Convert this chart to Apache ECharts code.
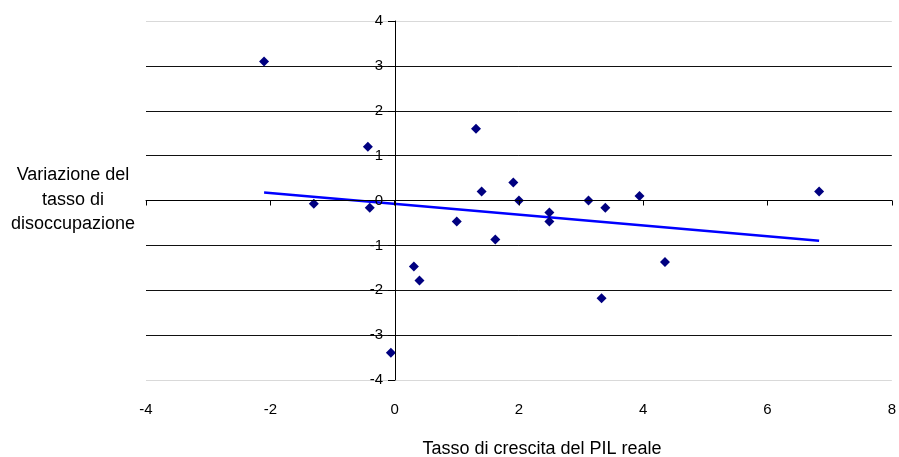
<!DOCTYPE html>
<html>
<head>
<meta charset="utf-8">
<script src="https://cdn.jsdelivr.net/npm/echarts@6/dist/echarts.min.js"></script>
<style>html,body{margin:0;padding:0;background:#fff}#c{width:899px;height:457px}</style>
</head>
<body>
<div id="c"></div>
<script>
// Tasso di crescita del PIL reale (x) vs Variazione del tasso di disoccupazione (y)
const gdpGrowth = [-2.1, -1.3, -0.43, -0.4, -0.06, 0.31, 0.4, 1.31, 1.4, 1.91, 2.0, 1.0, 1.62, 2.49, 2.49, 3.12, 3.39, 3.94, 3.33, 4.35, 6.83];
const unempChange = [3.1, -0.07, 1.2, -0.16, -3.39, -1.47, -1.78, 1.6, 0.2, 0.4, 0.0, -0.47, -0.87, -0.27, -0.47, 0.0, -0.16, 0.1, -2.18, -1.37, 0.2];
const xTicks = [-4, -2, 0, 2, 4, 6, 8];
const yTicks = [-4, -3, -2, -1, 0, 1, 2, 3, 4];
const xTitle = 'Tasso di crescita del PIL reale';
const yTitle = 'Variazione del\ntasso di\ndisoccupazione';

// Linear trend (least squares) from the data
const n = gdpGrowth.length;
const mx = gdpGrowth.reduce((a, b) => a + b, 0) / n;
const my = unempChange.reduce((a, b) => a + b, 0) / n;
let sxy = 0, sxx = 0;
for (let i = 0; i < n; i++) { sxy += (gdpGrowth[i] - mx) * (unempChange[i] - my); sxx += (gdpGrowth[i] - mx) ** 2; }
const slope = sxy / sxx, intercept = my - slope * mx;
const xMin = Math.min(...gdpGrowth), xMax = Math.max(...gdpGrowth);
const trend = [[xMin, intercept + slope * xMin], [xMax, intercept + slope * xMax]];

const FONT = "'Liberation Sans', Arial, sans-serif";
const GRID_LEFT = 146, GRID_RIGHT = 6;
const chart = echarts.init(document.getElementById('c'), null, { renderer: 'canvas' });
const gridColors = yTicks.map((v, i) => (i === 0 || i === yTicks.length - 1) ? '#d9d9d9' : '#111');
// place the y axis at x = 0 of the x scale
const plotW = 899 - GRID_LEFT - GRID_RIGHT;
const xSpan = xTicks[xTicks.length - 1] - xTicks[0];
const yAxisOffset = -Math.round((0 - xTicks[0]) / xSpan * plotW);
const yMin = yTicks[0], yMax = yTicks[yTicks.length - 1];

chart.setOption({
  animation: false,
  grid: { left: GRID_LEFT, right: GRID_RIGHT, top: 21, bottom: 77, containLabel: false },
  xAxis: [
    {
      type: 'value', min: xTicks[0], max: xTicks[xTicks.length - 1], interval: 2, position: 'bottom',
      axisLine: { show: false, onZero: false }, axisTick: { show: false }, splitLine: { show: false },
      axisLabel: { color: '#000', fontFamily: FONT, fontSize: 15, margin: 22 }
    },
    {
      type: 'value', min: xTicks[0], max: xTicks[xTicks.length - 1], interval: 2, position: 'top',
      axisLine: { show: true, onZero: true, onZeroAxisIndex: 0, lineStyle: { color: '#000', width: 1 } },
      axisTick: { show: true, inside: true, length: 5, lineStyle: { color: '#000' } },
      axisLabel: { show: false }, splitLine: { show: false }, z: 4
    }
  ],
  yAxis: [
    {
      type: 'value', min: yMin, max: yMax, interval: 1, position: 'left',
      offset: yAxisOffset,
      axisLine: { show: true, onZero: false, lineStyle: { color: '#000', width: 1 } },
      axisTick: { show: true, length: 7, lineStyle: { color: '#000' } },
      axisLabel: { color: '#000', fontFamily: FONT, fontSize: 15, margin: 12 },
      splitLine: { show: false }, z: 5
    },
    {
      type: 'value', min: yMin, max: yMax, interval: 1, position: 'right',
      axisLine: { show: false }, axisTick: { show: false }, axisLabel: { show: false },
      splitLine: { show: true, lineStyle: { color: gridColors, width: 1 } }, z: 0
    }
  ],
  graphic: [
    { type: 'text', x: 542, y: 449, style: { text: xTitle, fontFamily: FONT, fontSize: 18, fill: '#000', textAlign: 'center', textVerticalAlign: 'middle' } },
    { type: 'text', x: 73, y: 200, style: { text: yTitle, fontFamily: FONT, fontSize: 18, lineHeight: 24.5, fill: '#000', textAlign: 'center', textVerticalAlign: 'middle' } }
  ],
  series: [
    {
      type: 'line', xAxisIndex: 0, yAxisIndex: 0, data: trend, showSymbol: false, symbol: 'none',
      lineStyle: { color: '#0000ff', width: 2.5 }, z: 2
    },
    {
      type: 'scatter', xAxisIndex: 0, yAxisIndex: 0, data: gdpGrowth.map((x, i) => [x, unempChange[i]]),
      symbol: 'diamond', symbolSize: 10, itemStyle: { color: '#000080', opacity: 1 }, z: 3
    }
  ]
});
</script>
</body>
</html>
